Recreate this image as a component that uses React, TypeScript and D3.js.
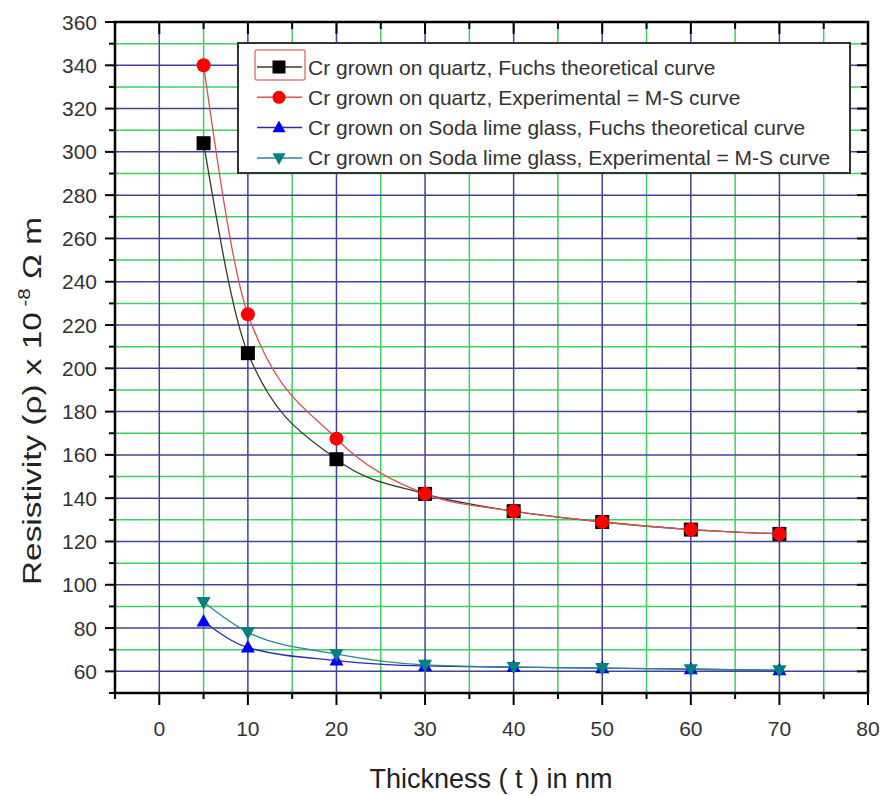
import { useEffect, useRef } from 'react'
import * as d3 from 'd3'

const thickness = [5, 10, 20, 30, 40, 50, 60, 70]
const quartzFuchs = [304, 207, 158, 142, 134, 129, 125.5, 123.5]
const quartzExp = [340, 225, 167.5, 142, 134, 129, 125.5, 123.5]
const sodaFuchs = [83, 71, 65, 62.5, 62, 61.5, 61, 60.5]
const sodaExp = [92, 78, 68, 63, 62, 61.5, 61, 60.5]

const xMajor = [0, 10, 20, 30, 40, 50, 60, 70, 80]
const xMinor = [-5, 5, 15, 25, 35, 45, 55, 65, 75]
const yMajor = [60, 80, 100, 120, 140, 160, 180, 200, 220, 240, 260, 280, 300, 320, 340, 360]
const yMinor = [50, 70, 90, 110, 130, 150, 170, 190, 210, 230, 250, 270, 290, 310, 330, 350]

const seriesNames = [
  'Cr grown on quartz, Fuchs theoretical curve',
  'Cr grown on quartz, Experimental = M-S curve',
  'Cr grown on Soda lime glass, Fuchs theoretical curve',
  'Cr grown on Soda lime glass, Experimental = M-S curve',
]

const W = 883
const H = 796
const FONT = 'Arial, "Liberation Sans", sans-serif'

export default function App() {
  const ref = useRef<SVGSVGElement>(null)

  useEffect(() => {
    document.body.style.margin = '0'
    const svg = d3.select(ref.current)
    svg.selectAll('*').remove()

    const x = d3.scaleLinear().domain([-5, 80]).range([115, 868])
    const y = d3.scaleLinear().domain([50, 360]).range([693, 22])
    const [x0, x1] = x.range()
    const [y0, y1] = y.range()

    svg.append('rect').attr('width', W).attr('height', H).attr('fill', '#fff')

    // grid
    const grid = svg.append('g')
    grid.selectAll('.gxm').data(xMinor.slice(1)).enter().append('line')
      .attr('x1', (d) => x(d)).attr('x2', (d) => x(d)).attr('y1', y1).attr('y2', y0)
      .attr('stroke', '#3fcf60').attr('stroke-width', 1.5)
    grid.selectAll('.gym').data(yMinor.slice(1)).enter().append('line')
      .attr('y1', (d) => y(d)).attr('y2', (d) => y(d)).attr('x1', x0).attr('x2', x1)
      .attr('stroke', '#3fcf60').attr('stroke-width', 1.5)
    grid.selectAll('.gx').data(xMajor.slice(0, -1)).enter().append('line')
      .attr('x1', (d) => x(d)).attr('x2', (d) => x(d)).attr('y1', y1).attr('y2', y0)
      .attr('stroke', '#42429a').attr('stroke-width', 1.5)
    grid.selectAll('.gy').data(yMajor.slice(0, -1)).enter().append('line')
      .attr('y1', (d) => y(d)).attr('y2', (d) => y(d)).attr('x1', x0).attr('x2', x1)
      .attr('stroke', '#42429a').attr('stroke-width', 1.5)

    const series = [
      { vals: quartzFuchs, line: '#3a3a2a', fill: '#000', shape: 'square' },
      { vals: quartzExp, line: '#d9534f', fill: '#ff0000', shape: 'circle' },
      { vals: sodaFuchs, line: '#2a2ab0', fill: '#0000ff', shape: 'up' },
      { vals: sodaExp, line: '#2a8a8a', fill: '#008080', shape: 'down' },
    ]

    const lineGen = d3.line<number>()
      .x((_, i) => x(thickness[i]))
      .y((d) => y(d))
      .curve(d3.curveMonotoneX)

    const symbolPath = (shape: string, size: number) => {
      if (shape === 'square') return d3.symbol(d3.symbolSquare, size * size)()
      if (shape === 'circle') return d3.symbol(d3.symbolCircle, Math.PI * (size / 2) ** 2)()
      const h = size * 0.9
      const w = size
      return shape === 'up'
        ? `M0,${-h * 0.6}L${w / 2},${h * 0.4}L${-w / 2},${h * 0.4}Z`
        : `M0,${h * 0.6}L${w / 2},${-h * 0.4}L${-w / 2},${-h * 0.4}Z`
    }

    series.forEach((s) => {
      svg.append('path').attr('d', lineGen(s.vals)).attr('fill', 'none')
        .attr('stroke', s.line).attr('stroke-width', 1.3)
    })
    series.forEach((s) => {
      svg.append('g').selectAll('path').data(s.vals).enter().append('path')
        .attr('d', symbolPath(s.shape, 14))
        .attr('transform', (d, i) => `translate(${x(thickness[i])},${y(d)})`)
        .attr('fill', s.fill)
    })

    // frame and ticks
    svg.append('rect').attr('x', x0).attr('y', y1).attr('width', x1 - x0).attr('height', y0 - y1)
      .attr('fill', 'none').attr('stroke', '#000').attr('stroke-width', 2.5)
    const ticks = svg.append('g').attr('stroke', '#000').attr('stroke-width', 2)
    xMajor.forEach((d) => {
      ticks.append('line').attr('x1', x(d)).attr('x2', x(d)).attr('y1', y0).attr('y2', y0 + 12)
      ticks.append('line').attr('x1', x(d)).attr('x2', x(d)).attr('y1', y1).attr('y2', y1 + 12)
    })
    xMinor.forEach((d) => {
      ticks.append('line').attr('x1', x(d)).attr('x2', x(d)).attr('y1', y0).attr('y2', y0 + 6)
      ticks.append('line').attr('x1', x(d)).attr('x2', x(d)).attr('y1', y1).attr('y2', y1 + 7)
    })
    yMajor.forEach((d) => {
      ticks.append('line').attr('y1', y(d)).attr('y2', y(d)).attr('x1', x0 - 10).attr('x2', x0)
      ticks.append('line').attr('y1', y(d)).attr('y2', y(d)).attr('x1', x1 - 11).attr('x2', x1)
    })
    yMinor.forEach((d) => {
      ticks.append('line').attr('y1', y(d)).attr('y2', y(d)).attr('x1', x0 - 6).attr('x2', x0)
      ticks.append('line').attr('y1', y(d)).attr('y2', y(d)).attr('x1', x1 - 7).attr('x2', x1)
    })

    // tick labels
    svg.append('g').selectAll('text').data(xMajor).enter().append('text')
      .attr('x', (d) => x(d)).attr('y', 736).attr('text-anchor', 'middle')
      .attr('font-family', FONT).attr('font-size', 21).attr('fill', '#333')
      .text((d) => d)
    svg.append('g').selectAll('text').data(yMajor).enter().append('text')
      .attr('x', 97).attr('y', (d) => y(d)).attr('dy', '0.36em').attr('text-anchor', 'end')
      .attr('font-family', FONT).attr('font-size', 21).attr('fill', '#333')
      .text((d) => d)

    // axis titles
    svg.append('text').attr('x', 491).attr('y', 788).attr('text-anchor', 'middle')
      .attr('font-family', FONT).attr('font-size', 27).attr('fill', '#222')
      .text('Thickness ( t ) in nm')
    const yt = svg.append('text').attr('transform', 'translate(41,401) rotate(-90)')
      .attr('text-anchor', 'middle').attr('font-family', FONT).attr('font-size', 26).attr('fill', '#222')
      .attr('textLength', 368).attr('lengthAdjust', 'spacingAndGlyphs')
    yt.append('tspan').text('Resistivity (ρ) x 10')
    yt.append('tspan').attr('font-size', 16).attr('dy', -11).text(' -8')
    yt.append('tspan').attr('dy', 11).text('  Ω m')

    // legend
    const lg = svg.append('g')
    lg.append('rect').attr('x', 238).attr('y', 43).attr('width', 612).attr('height', 130)
      .attr('fill', '#fff').attr('stroke', '#333').attr('stroke-width', 2)
    lg.append('rect').attr('x', 255).attr('y', 50).attr('width', 50).attr('height', 30).attr('rx', 2)
      .attr('fill', 'none').attr('stroke', '#d88080').attr('stroke-width', 1.5)
    series.forEach((s, i) => {
      const cy = 67 + i * 30.3
      lg.append('line').attr('x1', 257).attr('x2', 302).attr('y1', cy).attr('y2', cy)
        .attr('stroke', s.line).attr('stroke-width', 1.5)
      lg.append('path').attr('d', symbolPath(s.shape, 13))
        .attr('transform', `translate(279,${cy})`).attr('fill', s.fill)
      lg.append('text').attr('x', 308).attr('y', cy).attr('dy', '0.36em')
        .attr('font-family', FONT).attr('font-size', 21).attr('fill', '#333')
        .text(seriesNames[i])
    })
  }, [])

  return <svg ref={ref} width={W} height={H} style={{ display: 'block' }} />
}
